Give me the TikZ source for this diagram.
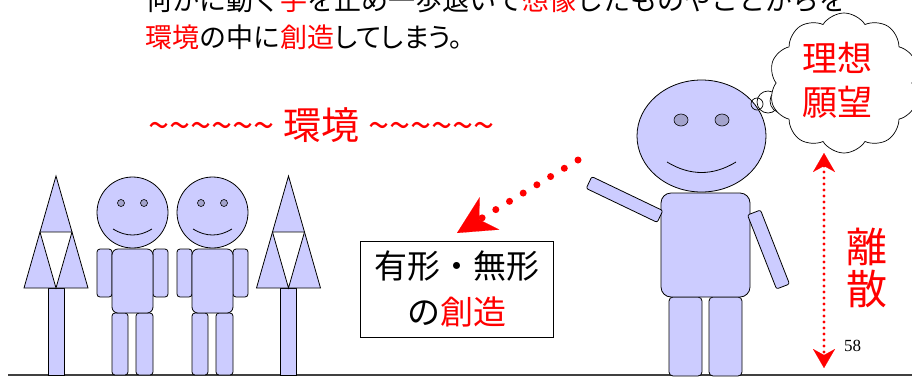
\documentclass[tikz,border=0pt]{standalone}
\usepackage{fontspec}
\setmainfont{Liberation Serif}
\newfontfamily\jpfont{Noto Sans CJK JP}
\newfontfamily\jpprop[RawFeature=+palt]{Noto Sans CJK JP}
\usetikzlibrary{arrows.meta,shapes.symbols}
\definecolor{figfill}{HTML}{CCCCFF}
\definecolor{eyefill}{HTML}{A3A3CC}
\definecolor{groundgray}{HTML}{404040}
\tikzset{
  figpart/.style={draw=black, fill=figfill, line width=0.8pt},
  voidpart/.style={draw=black, fill=white, line width=0.8pt},
  eyepart/.style={draw=black, fill=eyefill, line width=0.6pt},
  mouth/.style={draw=black, line width=0.8pt},
  bubble/.style={draw=black, line width=0.7pt},
  redtext/.style={text=red, inner sep=0pt},
  headline/.style={anchor=base west, inner sep=0pt, font=\jpfont\fontsize{27}{34}\selectfont},
  bigdots/.style={red, line width=7pt, line cap=round, dash pattern=on 0pt off 16pt,
    -{Stealth[length=38pt, width=38pt, inset=12pt, line width=0.1pt]}},
  gapdots/.style={red, line width=3.2pt, line cap=round, dash pattern=on 0pt off 6pt,
    {Stealth[length=19pt, width=22pt, inset=6pt, line width=0.1pt]}-{Stealth[length=19pt, width=22pt, inset=6pt, line width=0.1pt]}},
}
% a small standing figure, head centred at (#1, 212.5)
\newcommand{\smallfigure}[1]{%
  \begin{scope}[xshift=#1pt]
    \draw[figpart, rounded corners=3pt] (-20.5,249) rectangle (-35.5,297);
    \draw[figpart, rounded corners=3pt] (20.5,249) rectangle (35.5,297);
    \draw[figpart, rounded corners=3pt] (-20.5,313) rectangle (-4.5,375);
    \draw[figpart, rounded corners=3pt] (3.5,313) rectangle (20.5,375);
    \draw[figpart, rounded corners=6pt] (-20.5,249) rectangle (20.5,313);
    \draw[figpart] (0,212.5) circle[radius=35.5pt];
    \draw[eyepart] (-11.5,203) circle[radius=3.5pt];
    \draw[eyepart] (11.5,203) circle[radius=3.5pt];
    \draw[mouth] (-19.5,229) .. controls (-6.5,237) and (6.5,237) .. (19.5,229);
  \end{scope}}
% a tree made of three triangles around a white one, centred on x = #1
\newcommand{\trianglettree}[1]{%
  \begin{scope}[xshift=#1pt]
    \draw[figpart] (-8,288) rectangle (8,375);
    \draw[figpart, line join=miter] (0,176) -- (32,288) -- (-32,288) -- cycle;
    \draw[voidpart] (-16,232) -- (16,232) -- (0,288) -- cycle;
  \end{scope}}
\begin{document}
\begin{tikzpicture}[x=1pt,y=-1pt]
\useasboundingbox (0,0) rectangle (912,376);

% heading text, partly above the top edge
\node[headline] (lineone) at (145,10)
  {何かに動く\textcolor{red}{手}を止め一歩退いて\textcolor{red}{想像}したものやことがらを};
\node[headline] (linetwo) at (145,47)
  {\textcolor{red}{環境}の中に\textcolor{red}{創造}{\jpprop してしまう。}};

% ground
\coordinate (groundL) at (8,375);
\coordinate (groundR) at (912,375);
\draw[groundgray, line width=1.3pt] (groundL) -- (groundR);

% trees and the two small figures
\trianglettree{56}
\trianglettree{288.5}
\smallfigure{132.5}
\smallfigure{212.5}

% environment label
\node[redtext, font=\jpfont\fontsize{38}{40}\selectfont] (envlabel) at (321.5,125) {\textasciitilde\textasciitilde\textasciitilde\textasciitilde\textasciitilde\textasciitilde{} 環境 \textasciitilde\textasciitilde\textasciitilde\textasciitilde\textasciitilde\textasciitilde};

% the large figure
\draw[figpart, rounded corners=4pt] (669,297) rectangle (702,376);
\draw[figpart, rounded corners=4pt] (709,297) rectangle (742,376);
\draw[figpart, rounded corners=10pt] (661,193) rectangle (750,297);
\draw[figpart, rounded corners=2pt] (591.8,176.6) -- (662.8,210.6) -- (657.2,222.4) -- (586.2,188.4) -- cycle;
\draw[figpart, rounded corners=2pt] (747.5,215) -- (760.5,210) -- (789.5,284) -- (776.5,289) -- cycle;
\draw[figpart] (701.5,136) ellipse[x radius=64.5pt, y radius=56pt];
\draw[eyepart] (681,120) ellipse[x radius=7pt, y radius=6pt];
\draw[eyepart] (722,120) ellipse[x radius=7pt, y radius=6pt];
\draw[mouth] (667,162) .. controls (690,176) and (713,176) .. (736,162);

% thought bubble
\draw[bubble] (757,104) circle[radius=6pt];
\draw[bubble] (768,102) circle[radius=11pt];
\draw[bubble] (782,101) circle[radius=12pt];
\node[cloud, cloud puffs=10, cloud puff arc=115, aspect=1.05, draw=black, fill=white,
  line width=0.7pt, minimum width=150pt, minimum height=140pt, inner sep=0pt] (dream) at (844,83) {};
\node[redtext, align=center, font=\jpfont\fontsize{35}{44}\selectfont] (ideal) at (837.5,80.5) {理想\\願望};

% creation box
\node[draw=black, line width=1pt, minimum width=193pt, minimum height=96pt, inner sep=0pt,
  align=center, font=\jpfont\fontsize{33}{46}\selectfont] (creation) at (456.5,289)
  {有形・無形\\の\textcolor{red}{創造}};

% pointing arrow
\coordinate (handtip) at (578,160);
\coordinate (boxtop) at (457,233);
\draw[bigdots] (handtip) -- (boxtop);

% gap arrow
\coordinate (gaptop) at (824,153);
\coordinate (gapbot) at (824,368);
\draw[gapdots] (gaptop) -- (gapbot);
\node[redtext, align=center, font=\jpfont\fontsize{41}{42}\selectfont] (discrete) at (866.5,267.5) {離\\散};

% page number
\node[inner sep=0pt, font=\fontsize{17}{20}\selectfont] (pagenum) at (852.5,346) {58};
\end{tikzpicture}
\end{document}
